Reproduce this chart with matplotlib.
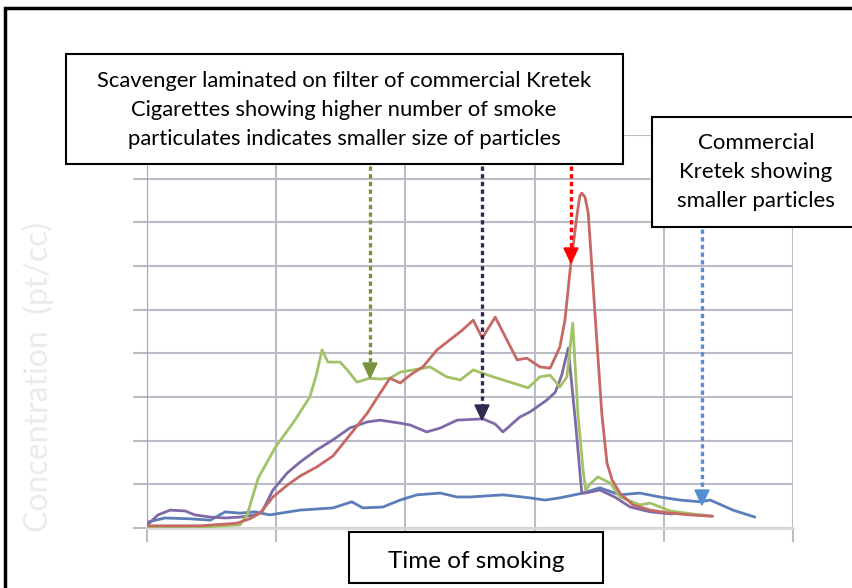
import matplotlib
matplotlib.use("Agg")
import matplotlib.pyplot as plt
from matplotlib.lines import Line2D
from matplotlib.patches import Rectangle, Polygon

W, H = 852, 588

# time of smoking (min) / concentration (x1000 pt/cc)
blue_t = [0.02, 0.28, 0.67, 0.98, 1.21, 1.44, 1.67, 1.90, 2.37, 2.88, 3.17, 3.34, 3.65, 3.92,
          4.18, 4.54, 4.80, 5.00, 5.51, 5.93, 6.16, 6.39, 6.75, 7.01, 7.32, 7.63, 7.94, 8.25,
          8.56, 8.72, 9.07, 9.41]
blue_c = [0.14, 0.23, 0.21, 0.18, 0.37, 0.34, 0.37, 0.30, 0.41, 0.46, 0.60, 0.46, 0.48, 0.64,
          0.76, 0.80, 0.71, 0.71, 0.76, 0.69, 0.64, 0.69, 0.80, 0.92, 0.76, 0.80, 0.71, 0.64,
          0.60, 0.64, 0.41, 0.25]

purple_t = [0.02, 0.17, 0.36, 0.59, 0.74, 0.98, 1.21, 1.44, 1.67, 1.78, 1.95, 2.17, 2.37, 2.63,
            2.88, 3.14, 3.41, 3.61, 3.92, 4.07, 4.33, 4.54, 4.80, 5.20, 5.39, 5.51, 5.77, 5.93,
            6.19, 6.32, 6.42, 6.52, 6.63, 6.73, 6.78, 7.01, 7.24, 7.48, 7.79, 8.13]
purple_c = [0.09, 0.30, 0.41, 0.39, 0.30, 0.25, 0.23, 0.25, 0.30, 0.37, 0.87, 1.26, 1.51, 1.79,
            2.02, 2.29, 2.43, 2.47, 2.40, 2.36, 2.20, 2.29, 2.47, 2.50, 2.38, 2.20, 2.54, 2.66,
            2.93, 3.11, 3.50, 4.12, 2.47, 0.80, 0.80, 0.87, 0.71, 0.48, 0.37, 0.32]

red_t = [0.02, 0.82, 1.39, 1.59, 1.75, 1.95, 2.17, 2.37, 2.63, 2.88, 3.14, 3.41, 3.61, 3.76,
         3.92, 4.07, 4.27, 4.49, 4.69, 4.88, 5.05, 5.19, 5.39, 5.57, 5.73, 5.88, 6.08, 6.24,
         6.39, 6.47, 6.55, 6.66, 6.70, 6.73, 6.78, 6.83, 6.90, 6.97, 7.04, 7.12, 7.20, 7.32,
         7.52, 7.79, 8.10, 8.41, 8.75]
red_c = [0.05, 0.05, 0.11, 0.21, 0.34, 0.71, 0.98, 1.19, 1.40, 1.65, 2.13, 2.63, 3.09, 3.43,
         3.32, 3.50, 3.69, 4.08, 4.31, 4.53, 4.76, 4.35, 4.83, 4.31, 3.85, 3.89, 3.69, 3.66,
         4.14, 4.76, 5.91, 7.21, 7.60, 7.67, 7.58, 7.21, 5.68, 4.14, 2.63, 1.49, 1.10, 0.80,
         0.53, 0.41, 0.34, 0.30, 0.27]

green_t = [0.02, 0.82, 1.44, 1.55, 1.72, 1.98, 2.29, 2.52, 2.62, 2.71, 2.80, 2.99, 3.10, 3.25,
           3.45, 3.61, 3.76, 3.92, 4.12, 4.38, 4.64, 4.85, 5.05, 5.36, 5.62, 5.90, 6.08, 6.24,
           6.39, 6.50, 6.59, 6.67, 6.75, 6.79, 6.86, 6.98, 7.17, 7.32, 7.63, 7.79, 8.10, 8.45,
           8.76]
green_c = [0.02, 0.02, 0.07, 0.30, 1.14, 1.83, 2.47, 3.00, 3.50, 4.08, 3.80, 3.80, 3.62, 3.34,
           3.43, 3.41, 3.43, 3.57, 3.62, 3.69, 3.46, 3.39, 3.62, 3.46, 3.34, 3.21, 3.46, 3.50,
           3.23, 3.46, 4.69, 2.63, 1.33, 0.87, 1.01, 1.17, 1.03, 0.71, 0.53, 0.57, 0.39, 0.32,
           0.27]

box1_text = ("Scavenger laminated on filter of commercial Kretek\n"
             "Cigarettes showing higher number of smoke\n"
             "particulates indicates smaller size of particles")
box2_text = "Commercial\nKretek showing\nsmaller particles"
box3_text = "Time of smoking"
ylabel = "Concentration  (pt/cc)"

FONT = "Lato"
GRID = "#bcbcc8"


def fx(x):
    return x / W


def fy(y):
    return 1 - y / H


def text_box(fig, x0, y0, x1, y1, txt, tx, ty, size):
    fig.add_artist(Rectangle((fx(x0), fy(y1)), fx(x1) - fx(x0), fy(y0) - fy(y1),
                             transform=fig.transFigure, facecolor="white",
                             edgecolor="black", lw=1.5, zorder=10))
    fig.text(fx(tx), fy(ty), txt, ha="center", va="center", fontsize=size,
             family=FONT, color="black", linespacing=1.55, zorder=11)


def dotted_arrow(fig, x, y0, y1, color):
    fig.add_artist(Line2D([fx(x), fx(x)], [fy(y0), fy(y1 - 12)], transform=fig.transFigure,
                          color=color, lw=2.4, linestyle=(0, (1.3, 1.0)), zorder=12))
    fig.add_artist(Polygon([(fx(x - 7), fy(y1 - 15)), (fx(x + 7), fy(y1 - 15)), (fx(x), fy(y1))],
                           closed=True, transform=fig.transFigure, color=color, zorder=12))


fig = plt.figure(figsize=(W / 100, H / 100), dpi=100)
ax = fig.add_axes([fx(147), fy(528), fx(793) - fx(147), fy(135) - fy(528)])
ax.set_xlim(0, 10)
ax.set_ylim(0, 9)
ax.set_xticks(range(0, 11, 2))
ax.set_yticks(range(0, 10))
ax.tick_params(length=10, width=1.5, color=GRID, labelbottom=False, labelleft=False)
ax.grid(True, color=GRID, lw=1.5)
for s in ["top", "right"]:
    ax.spines[s].set_visible(False)
ax.spines["left"].set_color("#a8a8b0")
ax.spines["bottom"].set_color("#d8d8d8")
ax.spines["bottom"].set_linewidth(2)

line_kw = dict(lw=2.0, solid_joinstyle="round", solid_capstyle="round")
ax.plot(blue_t, blue_c, color="#5b7dba", zorder=3, **line_kw)
ax.plot(purple_t, purple_c, color="#7f6aa8", zorder=4, **line_kw)
ax.plot(green_t, green_c, color="#a2c267", zorder=5, **line_kw)
ax.plot(red_t, red_c, color="#c66864", zorder=6, **line_kw)

fig.text(fx(38), fy(377), ylabel, rotation=90, ha="center", va="center",
         fontsize=23, family=FONT, color="#ebebeb")

text_box(fig, 66, 54, 623, 164, box1_text, 344, 110, 15.8)
text_box(fig, 652, 117, 870, 227, box2_text, 756, 172, 16)
text_box(fig, 349, 532, 603, 583, box3_text, 476, 561, 17.5)

dotted_arrow(fig, 370, 166, 378, "#77933c")
dotted_arrow(fig, 482, 166, 420, "#2f2a52")
dotted_arrow(fig, 571, 166, 263, "#ff0000")
dotted_arrow(fig, 702, 229, 505, "#558ed5")

# outer frame, runs off the right and bottom edges
fig.add_artist(Rectangle((fx(5), fy(620)), fx(900), fy(8) - fy(620), transform=fig.transFigure,
                         fill=False, edgecolor="black", lw=2.5, zorder=20))

fig.savefig("out.png", dpi=100)
